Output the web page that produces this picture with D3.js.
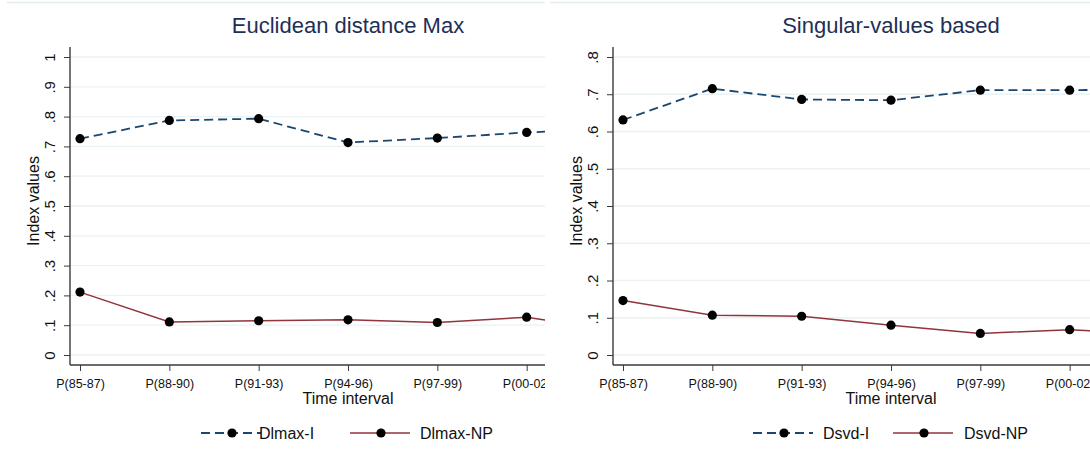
<!DOCTYPE html>
<html>
<head>
<meta charset="utf-8">
<script src="https://cdn.jsdelivr.net/npm/d3@7"></script>
<style>
  body { margin: 0; background: #fff; }
  svg { display: block; font-family: "Liberation Sans", Arial, sans-serif; }
</style>
</head>
<body>
<div id="chart"></div>
<script>
// categories (the 7th interval lies past the cropped edge of each panel)
const periods = ["P(85-87)", "P(88-90)", "P(91-93)", "P(94-96)", "P(97-99)", "P(00-02)", "P(03-05)"];
const shownPeriods = periods.slice(0, 6);

// left panel: Euclidean distance Max
const dlmaxI  = [0.726, 0.787, 0.793, 0.713, 0.728, 0.747, 0.758];
const dlmaxNP = [0.211, 0.111, 0.115, 0.118, 0.109, 0.127, 0.080];
const leftTicks = [0, 0.1, 0.2, 0.3, 0.4, 0.5, 0.6, 0.7, 0.8, 0.9, 1];

// right panel: Singular-values based
const dsvdI  = [0.631, 0.715, 0.686, 0.684, 0.711, 0.711, 0.713];
const dsvdNP = [0.146, 0.107, 0.104, 0.080, 0.058, 0.068, 0.055];
const rightTicks = [0, 0.1, 0.2, 0.3, 0.4, 0.5, 0.6, 0.7, 0.8];

// dimensions
const W = 1090, H = 464;
const plotLeft = 70, plotTop = 47, plotW = 556, plotH = 318;
const navy = "#1a476f", maroon = "#90353b", grid = "#eaf2f3", axisCol = "#3a3a3a";

const panels = [
  {x: 0,   w: 545, title: "Euclidean distance Max", max: 1,   ticks: leftTicks,
   series: [{name: "Dlmax-I", values: dlmaxI, color: navy, dash: "9,5", key: 201, text: 259},
            {name: "Dlmax-NP", values: dlmaxNP, color: maroon, dash: null, key: 350, text: 420}]},
  {x: 543, w: 547, title: "Singular-values based", max: 0.8, ticks: rightTicks,
   series: [{name: "Dsvd-I", values: dsvdI, color: navy, dash: "9,5", key: 210, text: 280},
            {name: "Dsvd-NP", values: dsvdNP, color: maroon, dash: null, key: 350, text: 421}]}
];

const fmt = d => d === 0 ? "0" : d === 1 ? "1" : d3.format(".1f")(d).replace(/^0/, "");

const svg = d3.select("#chart").append("svg").attr("width", W).attr("height", H);

const drawPanel = (p, i) => {
  const clipId = "clip" + i;
  svg.append("clipPath").attr("id", clipId)
    .append("rect").attr("x", 0).attr("y", 0).attr("width", p.w).attr("height", H);

  const g = svg.append("g").attr("transform", `translate(${p.x},0)`)
    .append("g").attr("clip-path", `url(#${clipId})`);

  // thin line at top of each graph region
  g.append("line").attr("x1", 7).attr("x2", p.w + 100).attr("y1", 2.5).attr("y2", 2.5)
    .attr("stroke", "#e3ecee").attr("stroke-width", 1.5);

  g.append("text").attr("x", plotLeft + plotW / 2).attr("y", 33)
    .attr("text-anchor", "middle").attr("font-size", 22).attr("fill", "#1e2f55")
    .text(p.title);

  const x = d3.scalePoint().domain(periods).range([10, plotW - 10]);
  const y = d3.scaleLinear().domain([0, p.max]).range([plotH - 10, 10]);

  const plot = g.append("g").attr("transform", `translate(${plotLeft},${plotTop})`);

  // grid
  plot.selectAll(".grid").data(p.ticks).join("line").attr("class", "grid")
    .attr("x1", 0).attr("x2", plotW)
    .attr("y1", d => y(d)).attr("y2", d => y(d))
    .attr("stroke", grid).attr("stroke-width", 1.3);

  // y axis
  const ya = plot.append("g").call(d3.axisLeft(y).tickValues(p.ticks).tickSize(6).tickFormat(fmt));
  ya.select(".domain").remove();
  ya.selectAll(".tick line").attr("stroke", axisCol);
  ya.selectAll(".tick text")
    .attr("x", null).attr("dy", null)
    .attr("transform", "translate(-15,0) rotate(-90)")
    .attr("text-anchor", "middle").attr("font-size", 15).attr("fill", "#111");

  // x axis
  const xa = plot.append("g").attr("transform", `translate(0,${plotH})`)
    .call(d3.axisBottom(x).tickValues(shownPeriods).tickSize(6));
  xa.select(".domain").remove();
  xa.selectAll(".tick line").attr("stroke", axisCol);
  xa.selectAll(".tick text").attr("y", 14).attr("font-size", 12.5).attr("fill", "#111");

  // axis lines
  plot.append("line").attr("x1", 0).attr("x2", 0).attr("y1", 0).attr("y2", plotH)
    .attr("stroke", axisCol).attr("stroke-width", 1.4);
  plot.append("line").attr("x1", 0).attr("x2", plotW).attr("y1", plotH).attr("y2", plotH)
    .attr("stroke", axisCol).attr("stroke-width", 1.4);

  // axis titles
  g.append("text").attr("transform", `translate(39,201) rotate(-90)`)
    .attr("text-anchor", "middle").attr("font-size", 16).attr("fill", "#111").text("Index values");
  g.append("text").attr("x", plotLeft + plotW / 2).attr("y", 404)
    .attr("text-anchor", "middle").attr("font-size", 16).attr("fill", "#111").text("Time interval");

  // series
  const line = d3.line().x((d, j) => x(periods[j])).y(d => y(d));
  p.series.forEach(s => {
    plot.append("path").datum(s.values).attr("d", line)
      .attr("fill", "none").attr("stroke", s.color).attr("stroke-width", s.dash ? 1.8 : 1.5)
      .attr("stroke-dasharray", s.dash);
    plot.selectAll(null).data(s.values).join("circle")
      .attr("cx", (d, j) => x(periods[j])).attr("cy", d => y(d)).attr("r", 4.6).attr("fill", "#000");
  });

  // legend
  const ly = 433;
  p.series.forEach(s => {
    g.append("line").attr("x1", s.key).attr("x2", s.key + 60).attr("y1", ly).attr("y2", ly)
      .attr("stroke", s.color).attr("stroke-width", s.dash ? 1.8 : 1.5).attr("stroke-dasharray", s.dash);
    g.append("circle").attr("cx", s.key + 31).attr("cy", ly).attr("r", 4.6).attr("fill", "#000");
    g.append("text").attr("x", s.text).attr("y", ly + 6).attr("font-size", 16).attr("fill", "#111").text(s.name);
  });
};

panels.forEach(drawPanel);
</script>
</body>
</html>
